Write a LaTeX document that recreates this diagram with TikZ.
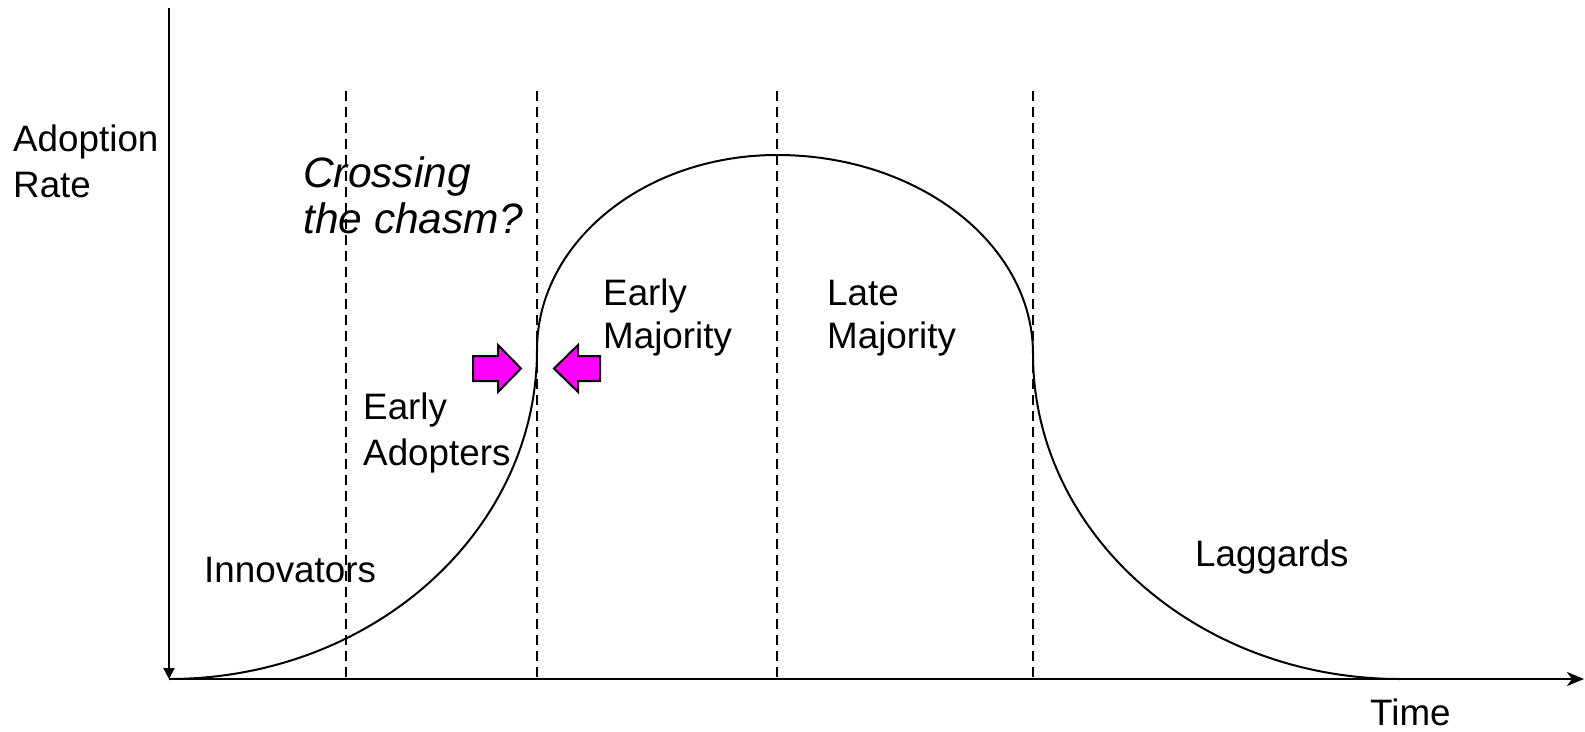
\documentclass[tikz,border=0pt]{standalone}
\usepackage{fontspec}
\setmainfont{Liberation Sans}
\usetikzlibrary{arrows.meta}
\begin{document}
\begin{tikzpicture}[x=1pt,y=-1pt,
  lbl/.style={anchor=base west,inner sep=0pt,font=\fontsize{36.8}{44}\selectfont},
  ilbl/.style={lbl,font=\fontsize{42.5}{48}\selectfont\itshape},
  axisline/.style={line width=2.4pt},
  divider/.style={line width=2pt,dash pattern=on 10pt off 6pt},
  curveline/.style={line width=2pt},
  chasmarrow/.style={fill={rgb,255:red,255;green,0;blue,255},draw=black,line width=2pt,line join=miter}]
\useasboundingbox (0,0) rectangle (1585,731);
% axes
\coordinate (ytop) at (169,8);
\coordinate (origin) at (169,679);
\coordinate (xend) at (1584,679);
\draw[axisline,-{Triangle[length=11pt,width=11pt]}] (ytop) -- (origin);
\draw[axisline,-{Stealth[length=17pt,width=14pt,inset=5pt]}] (origin) -- (xend);
% dividers
\foreach \n/\x in {d1/346,d2/537,d3/777,d4/1033}{
  \coordinate (\n t) at (\x,91);
  \coordinate (\n b) at (\x,679);
  \draw[divider] (\n t) -- (\n b);
}
% bell curve
\coordinate (cA) at (169,679);
\coordinate (cB) at (537,350);
\coordinate (cP) at (777,155);
\coordinate (cC) at (1033,354);
\coordinate (cD) at (1400,679);
\draw[curveline] (cA) .. controls (372.2,679) and (537,531.7) .. (cB)
  .. controls (537,242.3) and (644.4,155) .. (cP)
  .. controls (918.4,155) and (1033,244.1) .. (cC)
  .. controls (1033,533.5) and (1197.3,679) .. (cD);
% chasm arrows
\draw[chasmarrow] (473,356) -- (498,356) -- (498,345) -- (521,368.5) -- (498,392) -- (498,381) -- (473,381) -- cycle;
\draw[chasmarrow] (600,356) -- (578,356) -- (578,345) -- (554,368.5) -- (578,392) -- (578,381) -- (600,381) -- cycle;
% labels
\node[lbl] (ya1) at (13,151) {Adoption};
\node[lbl] (ya2) at (13,197) {Rate};
\node[ilbl] (cr1) at (303,187) {Crossing};
\node[ilbl] (cr2) at (303,233) {the chasm?};
\node[lbl] (em1) at (603,305) {Early};
\node[lbl] (em2) at (603,348) {Majority};
\node[lbl] (lm1) at (827,305) {Late};
\node[lbl] (lm2) at (827,348) {Majority};
\node[lbl] (ea1) at (363,419) {Early};
\node[lbl] (ea2) at (363,465) {Adopters};
\node[lbl] (inn) at (204,582) {Innovators};
\node[lbl] (lag) at (1195,566) {Laggards};
\node[lbl] (time) at (1370,725) {Time};
\end{tikzpicture}
\end{document}
